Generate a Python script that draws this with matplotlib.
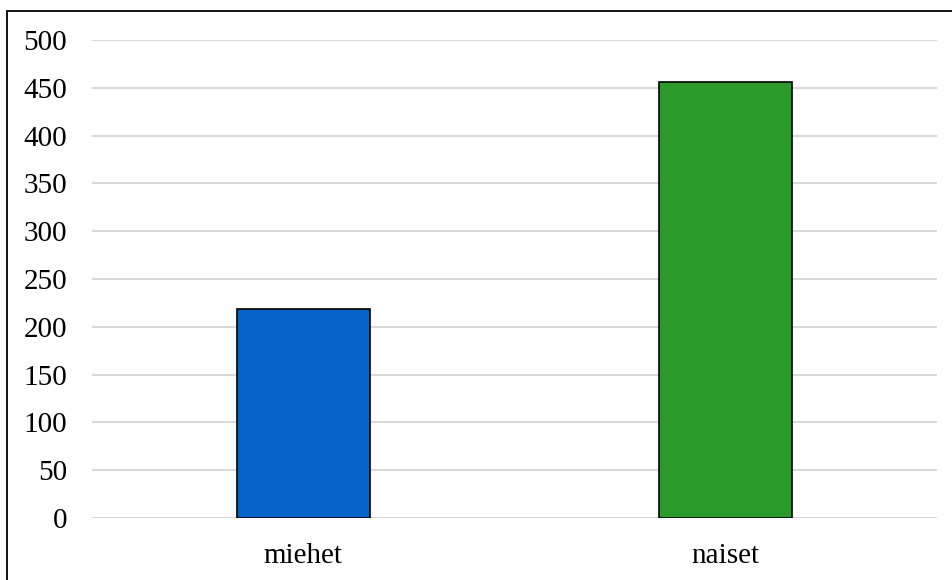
import matplotlib
matplotlib.use("Agg")
import matplotlib.pyplot as plt
from matplotlib.patches import Rectangle

categories = ["miehet", "naiset"]
values = [219, 456]
colors = ["#0563C9", "#2A9A2A"]
y_ticks = [0, 50, 100, 150, 200, 250, 300, 350, 400, 450, 500]

plt.rcParams["font.family"] = ["Liberation Serif", "DejaVu Serif"]

fig = plt.figure(figsize=(9.52, 5.8), dpi=100)
ax = fig.add_axes([92 / 952, 62 / 580, 845 / 952, 478 / 580])

x = range(len(categories))
ax.bar(x, values, width=0.315, color=colors, edgecolor="black", linewidth=1.2, zorder=3)

ax.set_xlim(-0.5, len(categories) - 0.5)
ax.set_ylim(0, 500)
ax.set_yticks(y_ticks)
ax.set_yticklabels([str(t) for t in y_ticks], fontsize=21)
ax.set_xticks(list(x))
ax.set_xticklabels(categories, fontsize=21)
ax.tick_params(axis="both", length=0)
ax.tick_params(axis="y", pad=18)
ax.tick_params(axis="x", pad=18)

ax.yaxis.grid(True, color="#d9d9d9", linewidth=1.5, zorder=0)
for s in ax.spines.values():
    s.set_visible(False)

# Chart-area frame (open to the right and bottom edges)
fig.patches.append(Rectangle((6.5 / 952, -0.1), 1.2, (580 - 10.5) / 580 + 0.1,
                             transform=fig.transFigure, fill=False,
                             edgecolor="black", linewidth=1.3))

fig.savefig("out.png", dpi=100)
